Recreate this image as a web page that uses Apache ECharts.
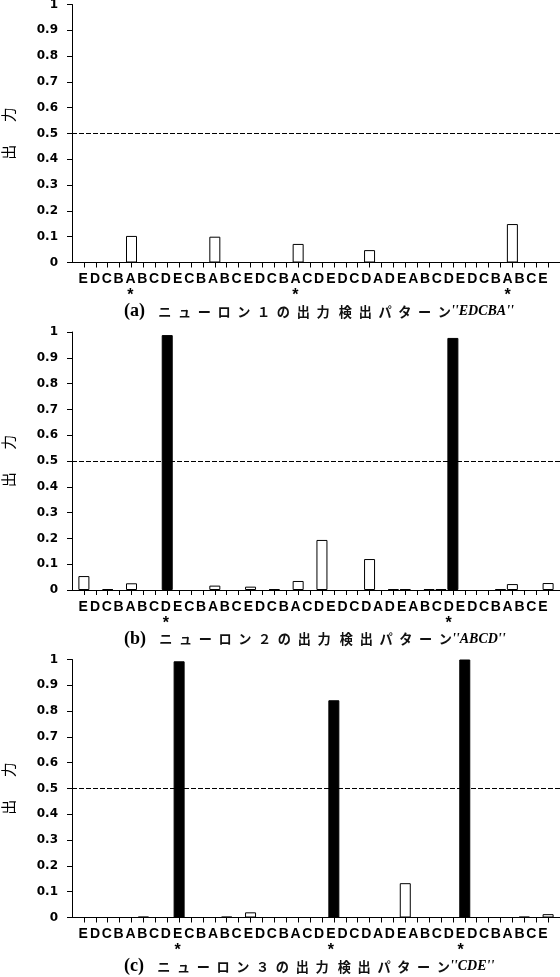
<!DOCTYPE html>
<html lang="ja">
<head>
<meta charset="UTF-8">
<title>ニューロンの出力</title>
<style>
  * { margin: 0; padding: 0; }
  html, body { background: #fff; }
  #chart { width: 560px; height: 977px; }
</style>
</head>
<body>
<div id="chart"></div>
<script src="https://cdn.jsdelivr.net/npm/echarts@6/dist/echarts.min.js"></script>
<script>
  // 入力系列
  const letters = ['E','D','C','B','A','B','C','D','E','C','B','A','B','C','E','D','C','B','A','C',
                   'D','E','D','C','D','A','D','E','A','B','C','D','E','D','C','B','A','B','C','E'];

  // 各ニューロンの出力
  const out1 = [
    0, 0, 0, 0, 0.103, 0, 0, 0, 0, 0,
    0, 0.1, 0, 0, 0, 0, 0, 0, 0.072, 0,
    0, 0, 0, 0, 0.048, 0, 0, 0, 0, 0,
    0, 0, 0, 0, 0, 0, 0.149, 0, 0, 0
  ];
  const out2 = [
    0.054, 0, 0.003, 0, 0.026, 0, 0, 0.988, 0, 0,
    0, 0.017, 0, 0, 0.013, 0, 0.003, 0, 0.035, 0,
    0.194, 0, 0, 0, 0.12, 0, 0.003, 0.003, 0, 0.003,
    0.003, 0.977, 0, 0, 0, 0.003, 0.023, 0, 0, 0.027
  ];
  const out3 = [
    0, 0, 0, 0, 0, 0.003, 0, 0, 0.993, 0,
    0, 0, 0.003, 0, 0.02, 0, 0, 0, 0, 0,
    0, 0.842, 0, 0, 0, 0, 0, 0.133, 0, 0,
    0, 0, 1.0, 0, 0, 0, 0, 0.003, 0, 0.013
  ];

  // 検出位置 (*)
  const marks1 = [4, 18, 36];
  const marks2 = [7, 31];
  const marks3 = [8, 21, 32];

  const panelTags = ['(a)', '(b)', '(c)'];
  const neuronNos = ['１', '２', '３'];
  const patterns = ['EDCBA', 'ABCD', 'CDE'];

  const outs = [out1, out2, out3];
  const marks = [marks1, marks2, marks3];

  const tops = [4.5, 332, 659.5];
  const H = 258;

  // 両端に空のカテゴリを足す
  const cats = [''].concat(letters, ['']);

  const spread = s => s.split('').join('\u2002');

  const grid = [], xAxis = [], yAxis = [], series = [], title = [];

  tops.forEach((top, p) => {
    const g = p * 2;
    grid.push({ left: 72, width: 488, top: top, height: H, outerBoundsMode: 'none' });
    grid.push({ left: 71.5, width: 483.3, top: top, height: H, outerBoundsMode: 'none' });

    xAxis.push({
      gridIndex: g,
      type: 'category',
      data: cats,
      boundaryGap: false,
      axisLine: { lineStyle: { color: '#000', width: 1 } },
      axisTick: { show: true, length: 5, interval: (i) => i > 0 && i < cats.length - 1, lineStyle: { color: '#000' } },
      axisLabel: { show: false },
      splitLine: { show: false }
    });
    xAxis.push({
      gridIndex: g + 1,
      type: 'category',
      data: cats,
      boundaryGap: false,
      axisLine: { show: false },
      axisTick: { show: false },
      axisLabel: {
        interval: 0,
        margin: 9,
        color: '#000',
        formatter: (v, i) => {
          if (!v) return '';
          return marks[p].indexOf(i - 1) >= 0 ? '{l|' + v + '}\n{s|*}' : '{l|' + v + '}';
        },
        rich: {
          l: { fontFamily: 'Liberation Sans', fontWeight: 'bold', fontSize: 14, lineHeight: 16, color: '#000' },
          s: { fontFamily: 'Liberation Sans', fontWeight: 'bold', fontSize: 16, lineHeight: 17, color: '#000' }
        }
      }
    });

    yAxis.push({
      gridIndex: g,
      type: 'value',
      min: 0,
      max: 1,
      interval: 0.1,
      name: '出\u3000\u2002力',
      nameLocation: 'middle',
      nameRotate: 90,
      nameGap: 56,
      nameTextStyle: { fontFamily: 'Noto Sans CJK JP', fontSize: 15, color: '#000' },
      axisLine: { show: true, lineStyle: { color: '#000', width: 1 } },
      axisTick: { show: true, length: 5, lineStyle: { color: '#000' } },
      axisLabel: { fontFamily: 'DejaVu Sans', fontWeight: 'bold', fontSize: 12, color: '#000', margin: 14 },
      splitLine: { show: false }
    });
    yAxis.push({ gridIndex: g + 1, type: 'value', show: false, min: 0, max: 1 });

    series.push({
      type: 'bar',
      xAxisIndex: g,
      yAxisIndex: g,
      barWidth: 11,
      data: ['-'].concat(outs[p].map(v => v > 0 ? v : '-'), ['-']),
      itemStyle: {
        color: (d) => d.value > 0.5 ? '#000' : '#fff',
        borderColor: '#000',
        borderWidth: 1
      },
      markLine: {
        silent: true,
        symbol: 'none',
        label: { show: false },
        lineStyle: { color: '#000', width: 1, type: [5, 2] },
        data: [{ yAxis: 0.5 }]
      }
    });

    title.push({
      left: 124,
      top: top + H + 38,
      padding: 0,
      text: '{p|' + panelTags[p] + '}{j|\u2002\u2002' + spread('ニューロン' + neuronNos[p] + 'の出力') +
            '\u2002\u2009' + spread('検出パターン') + '}{i|\'\'' + patterns[p] + '\'\'}',
      textStyle: {
        rich: {
          p: { fontFamily: 'Liberation Serif', fontWeight: 'bold', fontSize: 18, lineHeight: 22, color: '#000' },
          j: { fontFamily: 'Noto Sans CJK JP', fontSize: 13.2, lineHeight: 22, color: '#111' },
          i: { fontFamily: 'Liberation Serif', fontStyle: 'italic', fontWeight: 'bold', fontSize: 14, lineHeight: 22, color: '#000' }
        }
      }
    });
  });

  const chart = echarts.init(document.getElementById('chart'));
  chart.setOption({
    animation: false,
    backgroundColor: '#fff',
    title: title,
    grid: grid,
    xAxis: xAxis,
    yAxis: yAxis,
    series: series
  });
</script>
</body>
</html>
